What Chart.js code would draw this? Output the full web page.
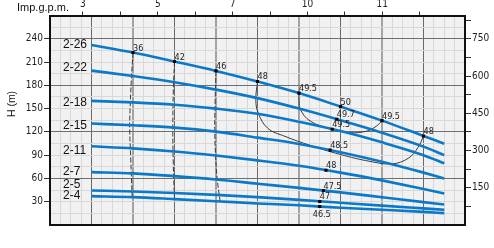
<!DOCTYPE html>
<html>
<head>
<meta charset="utf-8">
<script src="https://cdn.jsdelivr.net/npm/chart.js@4.4.1/dist/chart.umd.min.js"></script>
<style>
  html, body { margin: 0; padding: 0; background: #fff; overflow: hidden; }
  #wrap { width: 494px; height: 248px; }
</style>
</head>
<body>
<div id="wrap"><canvas id="pumpChart" width="494" height="248"></canvas></div>
<script>
// Pump curves 2-4 ... 2-26, head H (m) against flow

// flow positions where the head was read
const flowPoints = [1, 2, 3, 4, 5, 6, 7, 8, 9, 9.5];

const curveNames = ['2-26', '2-22', '2-18', '2-15', '2-11', '2-7', '2-5', '2-4'];
const head_2_26 = [232, 222.3, 210.7, 198.6, 185, 170, 152.6, 134.5, 114.7, 104.8];
const head_2_22 = [199, 192, 184, 174.5, 163.5, 150, 135, 119, 101, 90];
const head_2_18 = [160, 158, 155, 150, 143.3, 133, 121, 106.5, 90, 79.5];
const head_2_15 = [130.8, 128.5, 125.5, 120.3, 112.6, 104.5, 93.8, 81.5, 67.5, 60];
const head_2_11 = [101.4, 98.8, 94.8, 89.5, 83.3, 76.3, 67.5, 57.5, 46.5, 40.7];
const head_2_7 = [68.2, 66.5, 63, 58.7, 53.2, 47.8, 42, 35.8, 29.5, 26.5];
const head_2_5 = [44.5, 43.2, 41.2, 38.8, 35.9, 32.4, 28.7, 25, 21.4, 19.6];
const head_2_4 = [37.2, 35.9, 33.4, 30.7, 27.8, 25.4, 22.2, 19.6, 16.9, 15.3];
const headCurves = [head_2_26, head_2_22, head_2_18, head_2_15, head_2_11, head_2_7, head_2_5, head_2_4];

// efficiency (%) marks
const effLabels = ['36', '42', '46', '48', '49.5', '50', '49.5', '48', '49.7', '49.5', '48.5', '48', '47.5', '47', '46.5'];
const effFlow = [2.0, 3.0, 4.0, 5.0, 6.0, 7.0, 8.0, 9.0, 6.91, 6.8, 6.75, 6.65, 6.59, 6.5, 6.5];
const effHead = [222.3, 210.7, 198.6, 185, 170, 152.6, 134.5, 114.7, 136.3, 123.4, 96.5, 70.5, 44.4, 30.3, 23.8];

// efficiency contours
const eff36Flow = [2.0, 1.96, 1.93, 1.92, 1.945, 1.98];
const eff36Head = [222.3, 187, 150, 124.6, 86.8, 35.9];
const eff42Flow = [3.0, 2.97, 2.96, 2.97, 3.0];
const eff42Head = [210.7, 170, 124.6, 80, 33.4];
const eff46Flow = [4.0, 3.98, 3.97, 3.99, 4.03, 4.1];
const eff46Head = [198.6, 160, 124.6, 88.8, 58.7, 30.4];
const eff48Flow = [5.0, 4.96, 5.02, 5.25, 5.66, 6.27, 6.99, 7.71, 8.24, 8.63, 8.87, 9.0];
const eff48Head = [185, 161, 144, 124.6, 114.3, 102.6, 91, 82, 78.8, 85.9, 100.1, 114.7];
const eff495Flow = [6.0, 6.0, 6.03, 6.27, 6.79, 7.23, 7.63, 7.87, 8.0];
const eff495Head = [169.8, 160, 149, 134, 123.4, 119, 121, 127.6, 134.5];

// axis ticks
const headTicks = [30, 60, 90, 120, 150, 180, 210, 240];
const rightTicks = [150, 300, 450, 600, 750];
const topTicks = [3, 4, 5, 6, 7, 8, 9, 10, 11, 12];
const topLabelValues = [3, 5, 7, 9, 11];
const topLabelText = ['3', '5', '7', '10', '11'];

const BLUE = '#0a79c9';
const tickFont = { family: '"DejaVu Sans Condensed", "DejaVu Sans", sans-serif', size: 10 };

const toXY = (xs, ys) => xs.map((x, i) => ({ x: x, y: ys[i] }));

function range(from, to, step) {
    const out = [];
    for (let v = from; v <= to + 1e-9; v += step) out.push(Math.round(v * 1000) / 1000);
    return out;
}

const datasets = [];

datasets.push({
    data: toXY(effFlow, effHead),
    showLine: false,
    pointStyle: 'rect',
    pointRadius: 2.2,
    pointBackgroundColor: '#000',
    pointBorderWidth: 0,
    order: 0
});

curveNames.forEach((name, i) => {
    datasets.push({
        label: name,
        data: toXY(flowPoints, headCurves[i]),
        borderColor: BLUE,
        borderWidth: 2.6,
        pointRadius: 0,
        cubicInterpolationMode: 'monotone',
        fill: false,
        order: 1
    });
});

[[eff36Flow, eff36Head, [5, 2]], [eff42Flow, eff42Head, [5, 2]], [eff46Flow, eff46Head, [5, 2]],
 [eff48Flow, eff48Head, []], [eff495Flow, eff495Head, []]].forEach(c => {
    datasets.push({
        data: toXY(c[0], c[1]),
        borderColor: '#3a3a3a',
        borderWidth: 1,
        borderDash: c[2],
        tension: 0.4,
        pointRadius: 0,
        fill: false,
        order: 2
    });
});

// background, curve names, efficiency numbers and axis titles
const decor = {
    id: 'decor',
    beforeDraw(chart) {
        const a = chart.chartArea, ctx = chart.ctx;
        ctx.save();
        ctx.fillStyle = '#f1f1f1';
        ctx.fillRect(a.left, a.top, a.right - a.left, a.bottom - a.top);
        ctx.restore();
    },
    afterDatasetsDraw(chart) {
        const ctx = chart.ctx, xs = chart.scales.x, ys = chart.scales.y;
        const shift = [-0.7, -2.8, 1.8, 2, 4, 0, -6, 0];
        ctx.save();
        ctx.fillStyle = '#111';
        ctx.font = '12px "Liberation Sans", Arial, sans-serif';
        ctx.textAlign = 'left';
        ctx.textBaseline = 'middle';
        curveNames.forEach((name, i) => {
            ctx.fillText(name, 63, ys.getPixelForValue(headCurves[i][0]) + shift[i]);
        });

        ctx.font = '9px "Liberation Sans Narrow", "DejaVu Sans Condensed", sans-serif';
        ctx.fillStyle = '#222';
        effLabels.forEach((t, i) => {
            const px = xs.getPixelForValue(effFlow[i]);
            const py = ys.getPixelForValue(effHead[i]);
            if (i === effLabels.length - 1) {
                ctx.textAlign = 'center';
                ctx.textBaseline = 'top';
                ctx.fillText(t, px + 2, py + 4);
            } else {
                ctx.textAlign = 'left';
                ctx.textBaseline = 'alphabetic';
                ctx.fillText(t, px, py - 2);
            }
        });
        ctx.restore();
    },
    afterDraw(chart) {
        const ctx = chart.ctx;
        ctx.save();
        ctx.fillStyle = '#111';
        ctx.font = '11px "Liberation Sans", Arial, sans-serif';
        ctx.textAlign = 'left';
        ctx.textBaseline = 'alphabetic';
        ctx.fillText('Imp.g.p.m.', 17, 10.5);
        ctx.translate(12, 104);
        ctx.rotate(-Math.PI / 2);
        ctx.textAlign = 'center';
        ctx.textBaseline = 'middle';
        ctx.font = '10.5px "Liberation Sans", Arial, sans-serif';
        ctx.fillText('H (m)', 0, 0);
        ctx.restore();
    }
};

new Chart(document.getElementById('pumpChart'), {
    type: 'line',
    data: { datasets: datasets },
    options: {
        responsive: false,
        animation: false,
        devicePixelRatio: 1,
        layout: { padding: { left: 0, right: 0, top: 0, bottom: 23 } },
        plugins: { legend: { display: false }, tooltip: { enabled: false } },
        scales: {
            x: {
                type: 'linear', position: 'bottom', min: 0, max: 10,
                afterBuildTicks: s => { s.ticks = range(0, 10, 0.25).map(v => ({ value: v })); },
                afterFit: s => { s.height = 0; },
                ticks: { display: false },
                grid: {
                    drawTicks: false,
                    color: c => Number.isInteger(c.tick.value) ? (c.tick.value % 2 === 0 ? '#a3a3a3' : '#6a6a6a') : '#d8d8d8',
                    lineWidth: c => Number.isInteger(c.tick.value) && c.tick.value % 2 === 0 ? 2 : 1
                },
                border: { color: '#111', width: 2 }
            },
            xTop: {
                type: 'linear', position: 'top', min: 2.12, max: 13.21,
                afterBuildTicks: s => { s.ticks = topTicks.map(v => ({ value: v })); },
                afterFit: s => { s.height = 15.5; },
                ticks: {
                    autoSkip: false, maxRotation: 0, padding: 1, font: tickFont, color: '#222',
                    callback: v => { const k = topLabelValues.indexOf(v); return k >= 0 ? topLabelText[k] : ''; }
                },
                grid: { drawOnChartArea: false, tickLength: 4, tickColor: '#333' },
                border: { color: '#111', width: 2 }
            },
            y: {
                position: 'left', min: 0, max: 270,
                afterBuildTicks: s => { s.ticks = range(0, 270, 15).map(v => ({ value: v })); },
                afterFit: s => { s.width = 50; },
                ticks: {
                    autoSkip: false, padding: 1, font: tickFont, color: '#222',
                    callback: v => headTicks.includes(v) ? String(v) : ''
                },
                grid: {
                    tickLength: 6,
                    color: c => c.tick.value % 60 === 0 ? '#6f6f6f' : '#d8d8d8',
                    tickColor: c => headTicks.includes(c.tick.value) ? '#333' : 'rgba(0,0,0,0)'
                },
                border: { color: '#111', width: 2 }
            },
            y2: {
                position: 'right', min: 0, max: 843.75,
                afterBuildTicks: s => { s.ticks = range(75, 825, 75).map(v => ({ value: v })); },
                afterFit: s => { s.width = 29; },
                ticks: {
                    autoSkip: false, padding: 1, font: tickFont, color: '#222',
                    callback: v => rightTicks.includes(v) ? String(v) : ''
                },
                grid: { drawOnChartArea: false, tickLength: 6, tickColor: '#333' },
                border: { color: '#111', width: 2 }
            }
        }
    },
    plugins: [decor]
});
</script>
</body>
</html>
